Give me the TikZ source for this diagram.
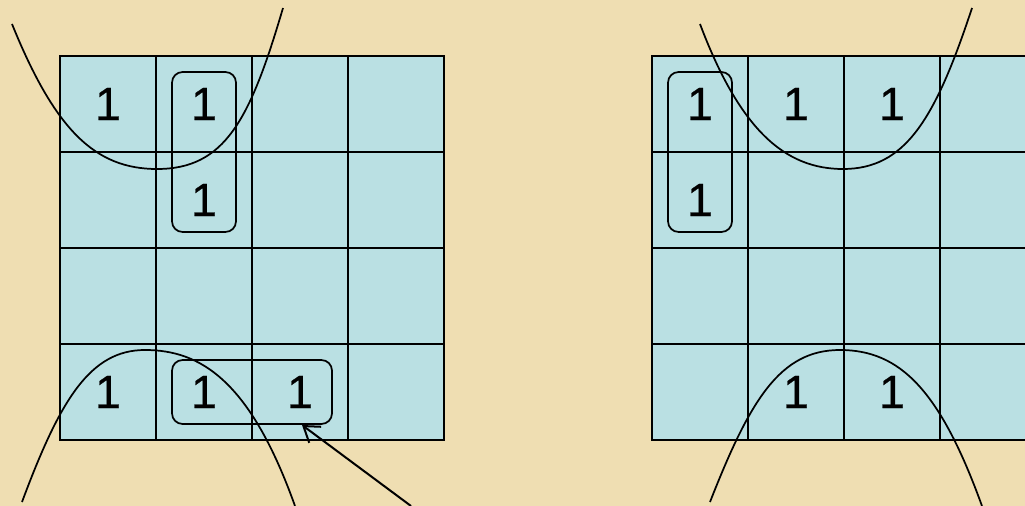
\documentclass[tikz,border=0pt]{standalone}
\usepackage{fontspec}
\setmainfont{Liberation Sans}
\newfontfamily\digitfont[FakeBold=0.5]{Liberation Sans}
\usetikzlibrary{arrows.meta}
\definecolor{parch}{RGB}{239,222,178}
\definecolor{cellc}{RGB}{186,224,227}
\tikzset{
  cell/.style={draw=black, line width=1.7pt, fill=cellc, minimum width=72pt, minimum height=72pt, inner sep=0pt, font=\digitfont\fontsize{35}{40}\selectfont},
  grp/.style={draw=black, line width=1.3pt, rounded corners=8pt, inner sep=0pt},
  curve/.style={draw=black, line width=1.3pt},
  pointer/.style={draw=black, line width=1.5pt, -{Straight Barb[length=11pt,width=15pt,line width=1.5pt]}}
}
\begin{document}
\begin{tikzpicture}[x=0.75pt,y=-0.75pt]
\useasboundingbox (0,0) rectangle (1025,506);
\fill[parch] (0,0) rectangle (1025,506);
\clip (0,0) rectangle (1025,506);
% left map
\foreach \r in {0,...,3}{
  \foreach \c in {0,...,3}{
    \node[cell] (L\r\c) at (108+96*\c,104+96*\r) {};
  }
}
% right map
\foreach \r in {0,...,3}{
  \foreach \c in {0,...,3}{
    \node[cell] (R\r\c) at (700+96*\c,104+96*\r) {};
  }
}
% ones
\node[cell,draw=none,fill=none] (l1) at (L00) {1};
\node[cell,draw=none,fill=none] (l2) at (L01) {1};
\node[cell,draw=none,fill=none] (l3) at (L11) {1};
\node[cell,draw=none,fill=none] (l4) at (L30) {1};
\node[cell,draw=none,fill=none] (l5) at (L31) {1};
\node[cell,draw=none,fill=none] (l6) at (L32) {1};
\node[cell,draw=none,fill=none] (r1) at (R00) {1};
\node[cell,draw=none,fill=none] (r2) at (R01) {1};
\node[cell,draw=none,fill=none] (r3) at (R02) {1};
\node[cell,draw=none,fill=none] (r4) at (R10) {1};
\node[cell,draw=none,fill=none] (r5) at (R31) {1};
\node[cell,draw=none,fill=none] (r6) at (R32) {1};
% groups
\node[grp, minimum width=48pt, minimum height=120pt] (lg1) at (204,152) {};
\node[grp, minimum width=120pt, minimum height=48pt] (lg2) at (252,392) {};
\node[grp, minimum width=48pt, minimum height=120pt] (rg1) at (700,152) {};
% curves
\draw[curve] (12,24) .. controls (55,130) and (95,169) .. (157,169)
  .. controls (225,169) and (250,120) .. (283,8);
\draw[curve] (22,502) .. controls (60,400) and (90,350) .. (145,350)
  .. controls (200,350) and (250,380) .. (295,506);
\draw[curve] (700,24) .. controls (740,130) and (785,169) .. (843,169)
  .. controls (905,169) and (935,120) .. (972,8);
\draw[curve] (710,502) .. controls (750,400) and (780,350) .. (840,350)
  .. controls (900,350) and (940,390) .. (982,506);
% arrow
\coordinate (tail) at (411,506);
\coordinate (tip) at (302,425);
\draw[pointer] (tail) -- (tip);
\end{tikzpicture}
\end{document}
